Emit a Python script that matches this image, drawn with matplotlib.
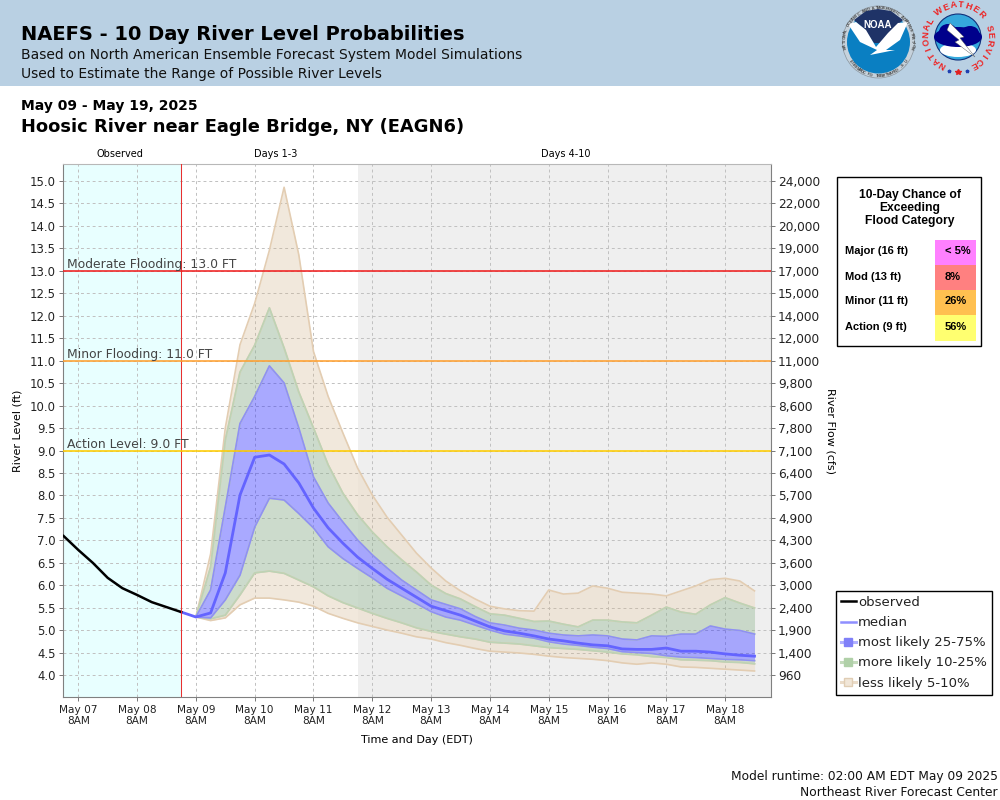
import numpy as np
import matplotlib
matplotlib.use('Agg')
import matplotlib.pyplot as plt
from matplotlib.lines import Line2D
from matplotlib.patches import Rectangle, Circle, Polygon, Ellipse

# observed stage, 6 hourly, from May 07 2AM
obs_level = [7.10, 6.79, 6.50, 6.17, 5.94, 5.79, 5.63, 5.52, 5.41]

# forecast percentiles, 6 hourly, from May 09 8AM
p95 = [5.30, 6.70, 9.50, 11.35, 12.27, 13.45, 14.85, 13.35, 11.20, 10.20, 9.39, 8.61, 8.01,
       7.52, 7.12, 6.72, 6.39, 6.10, 5.88, 5.70, 5.54, 5.48, 5.44, 5.43, 5.90, 5.81, 5.83,
       5.99, 5.94, 5.85, 5.83, 5.81, 5.77, 5.88, 5.99, 6.13, 6.16, 6.10, 5.88]
p90 = [5.30, 6.41, 9.23, 10.74, 11.34, 12.17, 11.28, 10.30, 9.50, 8.68, 8.05, 7.57, 7.19,
       6.86, 6.57, 6.30, 6.01, 5.82, 5.70, 5.53, 5.37, 5.34, 5.27, 5.20, 5.21, 5.14, 5.08,
       5.23, 5.23, 5.19, 5.17, 5.34, 5.52, 5.41, 5.36, 5.57, 5.73, 5.61, 5.50]
p75 = [5.30, 5.90, 7.74, 9.60, 10.20, 10.88, 10.50, 9.50, 8.41, 7.83, 7.41, 7.01, 6.68,
       6.39, 6.12, 5.90, 5.68, 5.58, 5.48, 5.31, 5.17, 5.12, 5.05, 5.01, 4.94, 4.90, 4.88,
       4.90, 4.88, 4.81, 4.79, 4.88, 4.87, 4.92, 4.92, 5.10, 5.03, 5.00, 4.92]
median = [5.30, 5.39, 6.28, 8.01, 8.85, 8.90, 8.70, 8.28, 7.72, 7.28, 6.94, 6.63, 6.38,
          6.14, 5.94, 5.74, 5.54, 5.44, 5.34, 5.21, 5.08, 4.99, 4.94, 4.88, 4.81, 4.77, 4.72,
          4.68, 4.66, 4.59, 4.58, 4.58, 4.61, 4.54, 4.54, 4.52, 4.48, 4.45, 4.43]
p25 = [5.30, 5.28, 5.68, 6.23, 7.30, 7.94, 7.90, 7.60, 7.28, 6.86, 6.60, 6.38, 6.17,
       5.94, 5.77, 5.60, 5.42, 5.30, 5.23, 5.12, 5.01, 4.92, 4.88, 4.83, 4.75, 4.70, 4.67,
       4.63, 4.60, 4.53, 4.51, 4.49, 4.44, 4.41, 4.40, 4.38, 4.36, 4.35, 4.33]
p10 = [5.30, 5.26, 5.34, 5.79, 6.28, 6.32, 6.27, 6.12, 5.97, 5.77, 5.62, 5.50, 5.38,
       5.27, 5.17, 5.06, 4.98, 4.92, 4.86, 4.81, 4.74, 4.72, 4.70, 4.66, 4.62, 4.60, 4.58,
       4.55, 4.52, 4.48, 4.46, 4.42, 4.40, 4.35, 4.34, 4.33, 4.30, 4.29, 4.26]
p05 = [5.30, 5.22, 5.28, 5.57, 5.72, 5.72, 5.68, 5.63, 5.54, 5.38, 5.27, 5.17, 5.09,
       5.01, 4.94, 4.86, 4.81, 4.73, 4.67, 4.60, 4.54, 4.52, 4.50, 4.47, 4.43, 4.40, 4.38,
       4.36, 4.33, 4.28, 4.25, 4.28, 4.25, 4.19, 4.18, 4.16, 4.14, 4.12, 4.10]

level_ticks = [4.0, 4.5, 5.0, 5.5, 6.0, 6.5, 7.0, 7.5, 8.0, 8.5, 9.0, 9.5, 10.0, 10.5, 11.0,
               11.5, 12.0, 12.5, 13.0, 13.5, 14.0, 14.5, 15.0]
flow_labels = ['960', '1,400', '1,900', '2,400', '3,000', '3,600', '4,300', '4,900', '5,700',
               '6,400', '7,100', '7,800', '8,600', '9,800', '11,000', '12,000', '14,000',
               '15,000', '17,000', '19,000', '20,000', '22,000', '24,000']
day_labels = ['May 07', 'May 08', 'May 09', 'May 10', 'May 11', 'May 12', 'May 13', 'May 14',
              'May 15', 'May 16', 'May 17', 'May 18']

flood_levels = [13.0, 11.0, 9.0]
flood_names = ['Moderate Flooding: 13.0 FT', 'Minor Flooding: 11.0 FT', 'Action Level: 9.0 FT']
flood_colors = ['#f02020', '#ffa030', '#ffcc00']

cat_names = ['Major (16 ft)', 'Mod (13 ft)', 'Minor (11 ft)', 'Action (9 ft)']
cat_chances = ['< 5%', '8%', '26%', '56%']
cat_colors = ['#ff80ff', '#ff8080', '#ffc050', '#ffff70']

TAN, GREEN, BLUE = '#d2b48c', '#8fb08f', '#3333ff'

fig = plt.figure(figsize=(10, 8), dpi=100)
ax = fig.add_axes([0.063, 1 - 697 / 800, 0.708, 533 / 800])

# hours since May 07 8AM
obs_hours = np.arange(len(obs_level)) * 6 - 6
fc_hours = np.arange(len(median)) * 6 + 48

ax.axvspan(-10, 42, color='#e8ffff', lw=0, zorder=0)
ax.axvspan(114, 290, color='#efefef', lw=0, zorder=0)
# lifts the bands off the grey part so they stay as light as on white
ax.fill_between(fc_hours, p05, p95, color='white', alpha=0.75, lw=0, zorder=1)
ax.grid(True, color='#c0c0c0', ls=(0, (3, 3)), lw=0.7)
ax.set_axisbelow('line')


def band(low, high, color, alpha, edge):
    ax.fill_between(fc_hours, low, high, color=color, alpha=alpha, lw=0, zorder=2)
    ax.plot(fc_hours, low, color=edge, lw=1.2, zorder=2.5)
    ax.plot(fc_hours, high, color=edge, lw=1.2, zorder=2.5)


band(p90, p95, TAN, 0.3, '#e3cdb2')
band(p05, p10, TAN, 0.3, '#e3cdb2')
band(p75, p90, GREEN, 0.45, '#bdd3b5')
band(p10, p25, GREEN, 0.45, '#bdd3b5')
band(p25, p75, BLUE, 0.42, '#8f8ff5')

ax.plot(np.r_[obs_hours[-1], fc_hours], np.r_[obs_level[-1], median], color='#6464ff', lw=2, zorder=4)
ax.plot(obs_hours, obs_level, color='black', lw=1.8, zorder=4)
ax.axvline(42, color='#e83030', lw=0.75, zorder=4)

for lev, name, col in zip(flood_levels, flood_names, flood_colors):
    ax.axhline(lev, color=col, lw=1.15, zorder=4)
    ax.annotate(name, (0, lev), xycoords=('axes fraction', 'data'), xytext=(2.8, 2),
                textcoords='offset points', fontsize=8.95, color='#444444', zorder=5)

ax.set_xlim(-6.24, 282.73)
ax.set_ylim(3.522, 15.367)
ax.set_yticks(level_ticks)
ax.set_yticklabels(['%.1f' % v for v in level_ticks], fontsize=8.4, color='#222222')
ax.set_xticks(np.arange(len(day_labels)) * 24)
ax.set_xticklabels([d + '\n8AM' for d in day_labels], fontsize=7.6, color='#222222', linespacing=1.05)
ax.tick_params(axis='y', length=3, width=0.7, color='#777777', pad=2)
ax.tick_params(axis='x', length=3, width=0.7, color='#777777', pad=3)
for side in ['left', 'bottom', 'right']:
    ax.spines[side].set_color('#808080')
ax.spines['top'].set_color('#b8b8b8')

ax2 = ax.twinx()
ax2.set_ylim(ax.get_ylim())
ax2.set_yticks(level_ticks)
ax2.set_yticklabels(flow_labels, fontsize=8.7, color='#222222')
ax2.tick_params(axis='y', length=3, width=0.7, color='#777777', pad=2)
for side in ['left', 'bottom', 'right', 'top']:
    ax2.spines[side].set_visible(False)

handles = [
    Line2D([], [], color='black', lw=1.8),
    Line2D([], [], color='#8f8fff', lw=1.8),
    Line2D([], [], color='#b0b0ff', lw=2.2, marker='s', ms=5.5, mfc='#8080f8', mec='#8080f8'),
    Line2D([], [], color='#c4dabc', lw=2.2, marker='s', ms=5.5, mfc='#b0d0a8', mec='#b0d0a8'),
    Line2D([], [], color='#eadbc8', lw=2.2, marker='s', ms=5.5, mfc='#f1e6d8', mec='#e0cdb4'),
]
fig.legend(handles, ['observed', 'median', 'most likely 25-75%', 'more likely 10-25%', 'less likely 5-10%'],
           loc='upper left', bbox_to_anchor=(0.8355, 1 - 591 / 800), borderaxespad=0, fontsize=9.5,
           fancybox=False, framealpha=1, edgecolor='black', handlelength=1.2, handletextpad=0.12,
           labelspacing=0.54, borderpad=0.38, labelcolor='#222222')

# everything outside the plot is placed in pixels
page = fig.add_axes([0, 0, 1, 1], zorder=5)
page.set_xlim(0, 1000)
page.set_ylim(800, 0)
page.axis('off')
page.patch.set_alpha(0)

page.add_patch(Rectangle((0, 0), 1000, 85.5, color='#b9d0e3', lw=0))
page.text(21, 40, 'NAEFS - 10 Day River Level Probabilities', fontsize=14, fontweight='bold')
page.text(21, 59, 'Based on North American Ensemble Forecast System Model Simulations', fontsize=9.96, color='#111111')
page.text(21, 78, 'Used to Estimate the Range of Possible River Levels', fontsize=9.96, color='#111111')
page.text(21, 110, 'May 09 - May 19, 2025', fontsize=10, fontweight='bold')
page.text(21, 132, 'Hoosic River near Eagle Bridge, NY (EAGN6)', fontsize=12.9, fontweight='bold')

page.text(120, 157, 'Observed', fontsize=7, ha='center')
page.text(276, 157, 'Days 1-3', fontsize=7, ha='center')
page.text(566, 157, 'Days 4-10', fontsize=7, ha='center')
page.text(18, 431, 'River Level (ft)', fontsize=8, rotation=90, ha='center', va='center')
page.text(831, 431, 'River Flow (cfs)', fontsize=8, rotation=270, ha='center', va='center')
page.text(417, 740, 'Time and Day (EDT)', fontsize=8, ha='center', va='center')
page.text(998, 780, 'Model runtime: 02:00 AM EDT May 09 2025', fontsize=8.83, ha='right', color='#111111')
page.text(998, 796, 'Northeast River Forecast Center', fontsize=8.83, ha='right', color='#111111')

# flood category table
page.add_patch(Rectangle((836.5, 176.5), 144, 169, fc='white', ec='black', lw=1))
for i, line in enumerate(['10-Day Chance of', 'Exceeding', 'Flood Category']):
    page.text(910, 195 + i * 13, line, fontsize=8.7, fontweight='bold', ha='center', va='center',
              family='Liberation Sans')
for i in range(len(cat_names)):
    top = 240 + i * 25
    page.add_patch(Rectangle((935, top), 41, 25 if i < 3 else 26, color=cat_colors[i], lw=0))
    page.text(845, top + 11.5, cat_names[i], fontsize=8, fontweight='bold', va='center', family='Liberation Sans')
    page.text(945, top + 11.5, cat_chances[i], fontsize=8, fontweight='bold', va='center', family='Liberation Sans')


def ring_text(cx, cy, r, text, start, end, size, color, bottom=False):
    angles = np.radians(np.linspace(start, end, len(text)))
    for ch, a in zip(text, angles):
        x, y = cx + r * np.sin(a), cy - r * np.cos(a)
        rot = -np.degrees(a)
        if bottom:
            rot += 180
        page.text(x, y, ch, fontsize=size, color=color, rotation=rot, rotation_mode='anchor',
                  ha='center', va='center', fontweight='bold', family='Liberation Sans')


# NOAA logo
page.add_patch(Circle((878.5, 42), 36, fc='#c6d2dc', ec='#8a949c', lw=0.5))
page.add_patch(Circle((878.5, 42), 31.5, fc='#0a7fc2', ec='none'))
page.add_patch(Polygon([[854, 20], [866, 11], [878, 9], [891, 11], [903, 20], [893, 29], [883, 43],
                        [874, 43], [864, 29]], fc='#1f3367', ec='none'))
page.add_patch(Polygon([[848, 24], [856, 22], [866, 30], [876, 47], [888, 33], [898, 23], [908, 22],
                        [900, 40], [886, 50], [895, 50], [870, 55], [877, 50], [860, 42]], fc='white', ec='none'))
page.text(878, 25, 'NOAA', fontsize=7, color='white', fontweight='bold', ha='center', va='center',
          family='Liberation Sans')
ring_text(878.5, 42, 34, 'NATIONAL OCEANIC AND ATMOSPHERIC ADMINISTRATION', -100, 100, 2.9, '#444444')
ring_text(878.5, 42, 34, 'U.S. DEPARTMENT OF COMMERCE', 125, 235, 2.9, '#444444', bottom=True)

# NWS logo
page.add_patch(Circle((958, 37), 23, fc='#35a8dc', ec='#10307a', lw=0.8))
page.add_patch(Ellipse((958, 50), 36, 14, fc='white', ec='none'))
page.add_patch(Ellipse((958, 37), 48, 20, fc='#00008b', ec='none'))
page.add_patch(Ellipse((948, 32), 18, 16, fc='#00008b', ec='none'))
page.add_patch(Ellipse((970, 33), 18, 14, fc='#00008b', ec='none'))
page.add_patch(Polygon([[950, 23], [964, 37], [960, 38], [975, 57], [955, 42], [959, 40], [947, 30]],
                       fc='white', ec='#555555', lw=0.3))
ring_text(958, 37, 32, 'NATIONAL', -151, -60, 6.5, '#ee2222')
ring_text(958, 37, 32, 'WEATHER', -36, 46, 6.5, '#ee2222')
ring_text(958, 37, 32, 'SERVICE', 74, 151, 6.5, '#ee2222')
page.plot([949, 967], [71, 71], ls='', marker='*', ms=2.5, color='#2040b0')
page.plot([958], [72], ls='', marker='*', ms=4, color='#e02020')

fig.savefig('out.png', dpi=100)
